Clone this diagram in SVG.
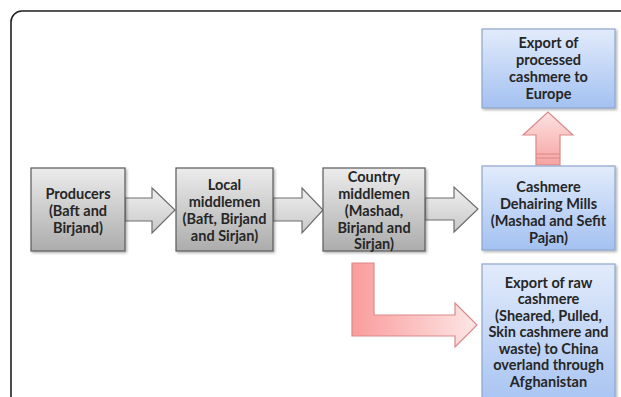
<svg xmlns="http://www.w3.org/2000/svg" width="621" height="397" viewBox="0 0 621 397">
  <defs>
    <linearGradient id="gGray" x1="0" y1="0" x2="0" y2="1">
      <stop offset="0" stop-color="#ececec"/>
      <stop offset="1" stop-color="#acacac"/>
    </linearGradient>
    <linearGradient id="gArrow" x1="0" y1="0" x2="0" y2="1">
      <stop offset="0" stop-color="#f0f0f0"/>
      <stop offset="1" stop-color="#c8c8c8"/>
    </linearGradient>
    <linearGradient id="gBlue" x1="0" y1="0" x2="0" y2="1">
      <stop offset="0" stop-color="#e2ebfb"/>
      <stop offset="1" stop-color="#a3c1f1"/>
    </linearGradient>
    <linearGradient id="gRedH" x1="352" y1="0" x2="477" y2="0" gradientUnits="userSpaceOnUse">
      <stop offset="0" stop-color="#fa9c9c"/>
      <stop offset="1" stop-color="#fde6e6"/>
    </linearGradient>
    <linearGradient id="gRedV" x1="0" y1="0" x2="0" y2="1">
      <stop offset="0" stop-color="#fde2e2"/>
      <stop offset="1" stop-color="#f7a2a2"/>
    </linearGradient>
    <filter id="sh" x="-10%" y="-10%" width="125%" height="125%">
      <feDropShadow dx="1.5" dy="1.5" stdDeviation="1.2" flood-color="#000" flood-opacity="0.3"/>
    </filter>
  </defs>
  <style>
    .frame { fill: #ffffff; stroke: #1e1e1e; stroke-width: 1.6; }
    .gbox { fill: url(#gGray); stroke: #5a5a5a; stroke-width: 1.2; filter: url(#sh); }
    .bbox { fill: url(#gBlue); stroke: #8ea6cc; stroke-width: 1.2; filter: url(#sh); }
    .garrow { fill: url(#gArrow); stroke: #6e6e6e; stroke-width: 1.2; }
    .rarrow { stroke: #d98a8a; stroke-width: 1.2; }
    text { font-family: Lato, "Open Sans", "Liberation Sans", sans-serif; font-weight: 700; font-size: 14.5px; fill: #262626; text-anchor: middle; }
  </style>

  <rect class="frame" x="11" y="11" width="660" height="430" rx="11" ry="11"/>

  <g id="connectors">
    <polygon class="garrow" points="125,198 152,198 152,188 175,210 152,233 152,221 125,221"/>
    <polygon class="garrow" points="273,198 302,198 302,188 323,210 302,233 302,221 273,221"/>
    <polygon class="garrow" points="425,198 454,198 454,187 478,209 454,232 454,220 425,220"/>
    <polygon class="rarrow" fill="url(#gRedH)" points="352,263 374,263 374,315 455,315 455,303 477,325 455,347 455,336 352,336"/>
    <g id="arrow-up">
      <polygon class="rarrow" fill="url(#gRedV)" points="536,165 536,135 523,135 548,112 573,135 560,135 560,165"/>
      <line x1="536" y1="154" x2="560" y2="154" stroke="#d98a8a" stroke-width="1"/>
      <line x1="536" y1="158" x2="560" y2="158" stroke="#d98a8a" stroke-width="1"/>
    </g>
  </g>

  <g id="producers">
    <rect class="gbox" x="31" y="168" width="94" height="83"/>
    <text x="78" y="199">Producers</text>
    <text x="78" y="216">(Baft and</text>
    <text x="78" y="233">Birjand)</text>
  </g>

  <g id="local-middlemen">
    <rect class="gbox" x="176" y="168" width="97" height="83"/>
    <text x="224.5" y="190">Local</text>
    <text x="224.5" y="207">middlemen</text>
    <text x="224.5" y="224">(Baft, Birjand</text>
    <text x="224.5" y="241">and Sirjan)</text>
  </g>

  <g id="country-middlemen">
    <rect class="gbox" x="323" y="168" width="102" height="83"/>
    <text x="374" y="182">Country</text>
    <text x="374" y="199">middlemen</text>
    <text x="374" y="216">(Mashad,</text>
    <text x="374" y="233">Birjand and</text>
    <text x="374" y="249">Sirjan)</text>
  </g>

  <g id="export-processed">
    <rect class="bbox" x="482" y="29" width="133" height="79"/>
    <text x="548.5" y="48">Export of</text>
    <text x="548.5" y="65">processed</text>
    <text x="548.5" y="82">cashmere to</text>
    <text x="548.5" y="99">Europe</text>
  </g>

  <g id="dehairing-mills">
    <rect class="bbox" x="482" y="166" width="133" height="84"/>
    <text x="548.5" y="192">Cashmere</text>
    <text x="548.5" y="209">Dehairing Mills</text>
    <text x="548.5" y="226">(Mashad and Sefit</text>
    <text x="548.5" y="243">Pajan)</text>
  </g>

  <g id="export-raw">
    <rect class="bbox" x="482" y="264" width="133" height="150"/>
    <text x="548.5" y="288">Export of raw</text>
    <text x="548.5" y="304">cashmere</text>
    <text x="548.5" y="321">(Sheared, Pulled,</text>
    <text x="548.5" y="337">Skin cashmere and</text>
    <text x="548.5" y="354">waste) to China</text>
    <text x="548.5" y="370">overland through</text>
    <text x="548.5" y="387">Afghanistan</text>
  </g>
</svg>
